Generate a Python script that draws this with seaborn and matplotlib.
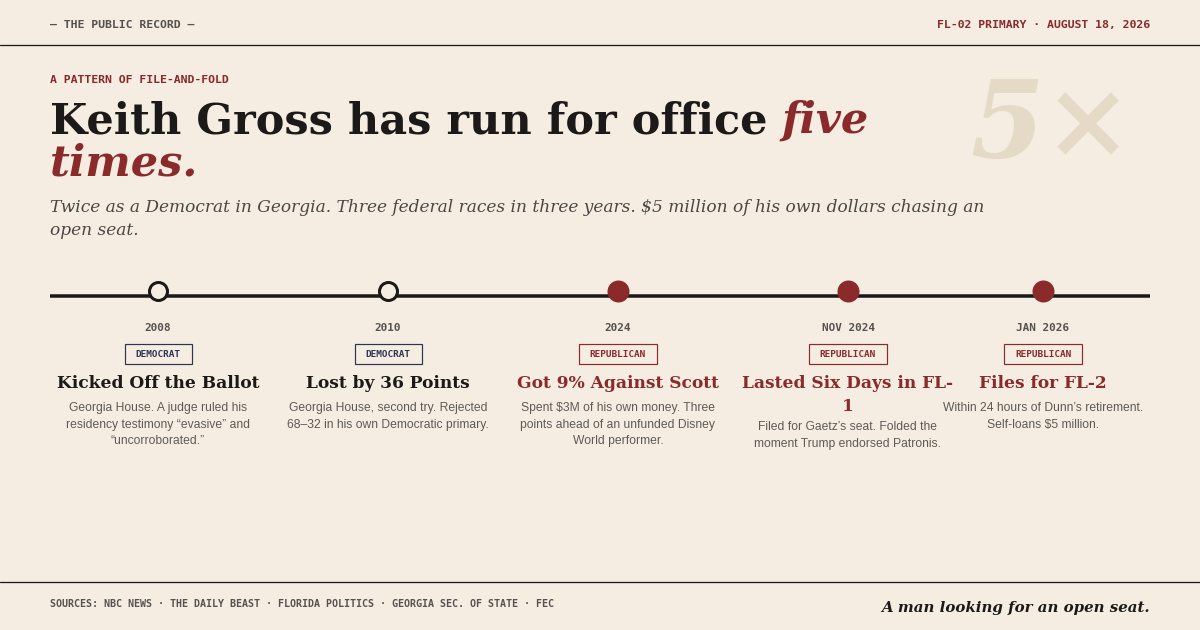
import matplotlib
matplotlib.use("Agg")
import matplotlib.pyplot as plt
from matplotlib.patches import Rectangle
import pandas as pd
import seaborn as sns

# chart content
years = ["2008", "2010", "2024", "NOV 2024", "JAN 2026"]
parties = ["DEMOCRAT", "DEMOCRAT", "REPUBLICAN", "REPUBLICAN", "REPUBLICAN"]
titles = [
    "Kicked Off the Ballot",
    "Lost by 36 Points",
    "Got 9% Against Scott",
    "Lasted Six Days in FL-\n1",
    "Files for FL-2",
]
notes = [
    "Georgia House. A judge ruled his\nresidency testimony \u201cevasive\u201d and\n\u201cuncorroborated.\u201d",
    "Georgia House, second try. Rejected\n68\u201332 in his own Democratic primary.",
    "Spent $3M of his own money. Three\npoints ahead of an unfunded Disney\nWorld performer.",
    "Filed for Gaetz\u2019s seat. Folded the\nmoment Trump endorsed Patronis.",
    "Within 24 hours of Dunn\u2019s retirement.\nSelf-loans $5 million.",
]

header_left = "\u2014 THE PUBLIC RECORD \u2014"
header_right = "FL-02 PRIMARY \u00b7 AUGUST 18, 2026"
kicker = "A PATTERN OF FILE-AND-FOLD"
headline = "Keith Gross has run for office"
headline_red = ["five", "times."]
subtitle = ("Twice as a Democrat in Georgia. Three federal races in three years. "
            "$5 million of his own dollars chasing an\nopen seat.")
big_mark = "5\u00d7"
sources = ("SOURCES: NBC NEWS \u00b7 THE DAILY BEAST \u00b7 FLORIDA POLITICS \u00b7 "
           "GEORGIA SEC. OF STATE \u00b7 FEC")
signoff = "A man looking for an open seat."

# layout (pixels)
col_x = [158, 388, 618, 848, 1043]
LEFT, RIGHT = 50, 1150

BG = "#f5ede2"
INK = "#1b1a18"
RED = "#8a2a2b"
NAVY = "#2c3450"
GREY = "#555250"
BODY = "#5e5b57"
FAINT = "#e4dac6"

SERIF = "DejaVu Serif"
SANS = "Liberation Sans"
MONO = "DejaVu Sans Mono"


def px(v):
    return v * 0.72


sns.set_theme(style="white", rc={"figure.facecolor": BG, "axes.facecolor": BG})

df = pd.DataFrame({"x": col_x, "y": 291, "party": parties})

fig = plt.figure(figsize=(12, 6.3), dpi=100)
ax = fig.add_axes([0, 0, 1, 1])
ax.set_xlim(0, 1200)
ax.set_ylim(630, 0)
ax.axis("off")
renderer = fig.canvas.get_renderer()

# header and rules
ax.text(LEFT, 28, header_left, family=MONO, weight="bold", fontsize=px(11.5),
        color=GREY, va="baseline")
ax.text(RIGHT, 28, header_right, family=MONO, weight="bold", fontsize=px(11.5),
        color=RED, va="baseline", ha="right")
ax.axhline(45, color=INK, lw=px(1.3))
ax.axhline(582, color=INK, lw=px(1.3))

ax.text(LEFT, 83, kicker, family=MONO, weight="bold", fontsize=px(11.5),
        color=RED, va="baseline")

# faint 5x
ax.text(1133, 157, big_mark, family=SERIF, weight="bold", style="italic",
        fontsize=px(106), color=FAINT, va="baseline", ha="right", zorder=0)

# headline
t1 = ax.text(LEFT, 133, headline, family=SERIF, weight="bold", fontsize=px(43),
             color=INK, va="baseline")
bb = t1.get_window_extent(renderer)
x_end = ax.transData.inverted().transform((bb.x1, bb.y0))[0]
ax.text(x_end + 14, 133, headline_red[0], family=SERIF, weight="bold",
        style="italic", fontsize=px(43), color=RED, va="baseline")
ax.text(LEFT, 176, headline_red[1], family=SERIF, weight="bold",
        style="italic", fontsize=px(43), color=RED, va="baseline")

ax.text(LEFT, 199, subtitle, family=SERIF, style="italic", fontsize=px(17),
        color="#4a4744", va="top", linespacing=1.45)

# timeline
ax.hlines(296, LEFT, RIGHT, color=INK, lw=px(3.5), zorder=1)
dem = df[df["party"] == "DEMOCRAT"]
rep = df[df["party"] == "REPUBLICAN"]
sns.scatterplot(data=dem, x="x", y="y", ax=ax, s=px(18) ** 2, color=BG,
                edgecolor=INK, linewidth=px(3), zorder=3, legend=False)
sns.scatterplot(data=rep, x="x", y="y", ax=ax, s=px(22) ** 2, color=RED,
                edgecolor=RED, linewidth=0, zorder=3, legend=False)

for cx, yr, party, title, note in zip(col_x, years, parties, titles, notes):
    pc = NAVY if party == "DEMOCRAT" else RED
    ax.text(cx, 331, yr, family=MONO, weight="bold", fontsize=px(11),
            color=GREY, ha="center", va="baseline")
    tag = ax.text(cx, 357, party, family=MONO, weight="bold", fontsize=px(9.4),
                  color=pc, ha="center", va="baseline")
    tb = tag.get_window_extent(renderer)
    w = (tb.x1 - tb.x0) + 22
    ax.add_patch(Rectangle((cx - w / 2, 344), w, 20, fill=False,
                           edgecolor=pc, lw=px(1.2)))
    tcol = INK if party == "DEMOCRAT" else RED
    ax.text(cx, 375, title, family=SERIF, weight="bold", fontsize=px(17),
            color=tcol, ha="center", va="top", linespacing=1.47)
    n = title.count("\n")
    ax.text(cx, 388 + 19 * n + 23 - 8.7, note, family=SANS, fontsize=px(12.1),
            color=BODY, ha="center", va="top", linespacing=1.5)

# footer
ax.text(LEFT, 607, sources, family=MONO, weight="bold", fontsize=px(10),
        color=GREY, va="baseline")
ax.text(RIGHT, 612, signoff, family=SERIF, weight="bold", style="italic",
        fontsize=px(15), color=INK, va="baseline", ha="right")

fig.savefig("out.png", dpi=100, facecolor=BG)
